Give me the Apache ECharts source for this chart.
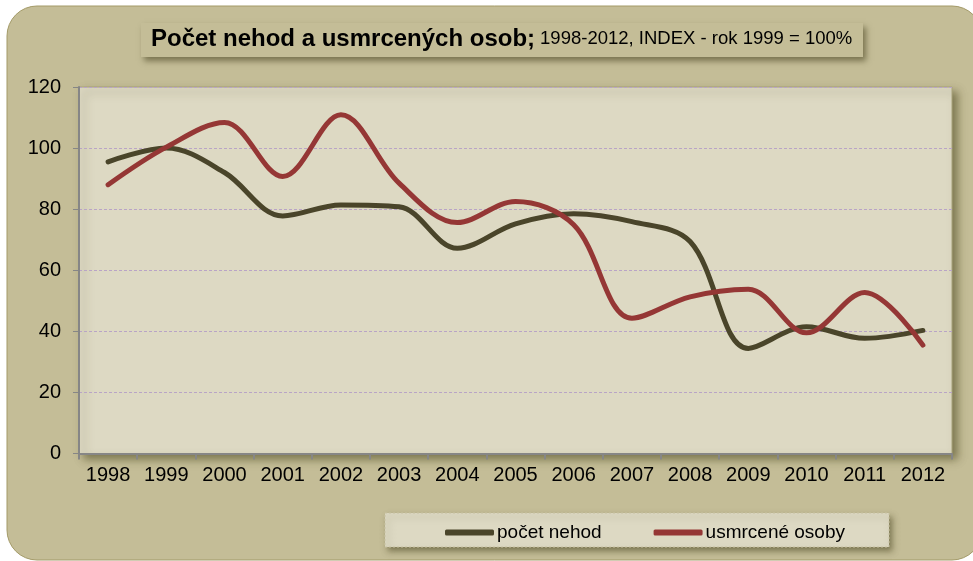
<!DOCTYPE html>
<html>
<head>
<meta charset="utf-8">
<script src="https://cdn.jsdelivr.net/npm/echarts@6/dist/echarts.min.js"></script>
<style>
  html, body { margin: 0; padding: 0; background: #fff; }
  #chart { width: 973px; height: 561px; }
</style>
</head>
<body>
<div id="chart"></div>
<script>
const years = ['1998', '1999', '2000', '2001', '2002', '2003', '2004', '2005',
  '2006', '2007', '2008', '2009', '2010', '2011', '2012'];
const pocetNehod = [95.5, 100, 92, 77.8, 81.4, 80.8, 67.2, 75.2, 78.5, 75.9, 69.4, 34.4, 41.5, 37.7, 40.3];
const usmrceneOsoby = [88, 100.3, 108.4, 90.7, 110.9, 88.5, 75.6, 82.5, 74.9, 44.3, 51.3, 53.8, 39.5, 52.7, 35.5];
const yTicks = [0, 20, 40, 60, 80, 100, 120];

const titleMain = 'Počet nehod a usmrcených osob;';
const titleSub = '1998-2012, INDEX - rok 1999 = 100%';

// measure title so it sits centred in its box
const ctx = document.createElement('canvas').getContext('2d');
ctx.font = 'bold 24px "Liberation Sans"';
let w = ctx.measureText(titleMain + ' ').width;
ctx.font = '18.5px "Liberation Sans"';
w += ctx.measureText(titleSub).width;

const chart = echarts.init(document.getElementById('chart'));

const option = {
  backgroundColor: '#ffffff',
  textStyle: { fontFamily: '"Liberation Sans", Arial, sans-serif' },
  graphic: [
    {
      type: 'rect', z: -10,
      shape: { x: 7, y: 6, width: 975, height: 554, r: 30 },
      style: { fill: '#c4bd97', stroke: '#a39a68', lineWidth: 1 }
    },
    {
      type: 'rect', z: -5,
      shape: { x: 141, y: 23, width: 722, height: 34 },
      style: {
        fill: '#c4bd97', shadowBlur: 6, shadowOffsetX: 3, shadowOffsetY: 4,
        shadowColor: 'rgba(60,55,20,0.55)'
      }
    },
    {
      type: 'rect', z: -5,
      shape: { x: 385, y: 513, width: 504, height: 34 },
      style: {
        fill: '#ddd9c3', stroke: '#c8c2a2', lineWidth: 1, lineDash: [2, 2],
        shadowBlur: 6, shadowOffsetX: 3, shadowOffsetY: 4,
        shadowColor: 'rgba(60,55,20,0.5)'
      }
    }
  ],
  title: {
    text: '{b|' + titleMain + '} {s|' + titleSub + '}',
    left: Math.round(502 - w / 2),
    top: 27,
    padding: 0,
    textStyle: {
      rich: {
        b: { fontSize: 24, fontWeight: 'bold', color: '#000', fontFamily: '"Liberation Sans"' },
        s: { fontSize: 18.5, fontWeight: 'normal', color: '#000', fontFamily: '"Liberation Sans"' }
      }
    }
  },
  legend: {
    data: ['počet nehod', 'usmrcené osoby'],
    left: 440,
    top: 518,
    icon: 'roundRect',
    itemWidth: 49,
    itemHeight: 6,
    itemGap: 52,
    textStyle: { fontSize: 19, color: '#000', padding: [0, 0, 0, -2] }
  },
  grid: {
    left: 79, top: 87, right: 21, bottom: 107.5,
    show: true,
    backgroundColor: '#ddd9c3',
    borderColor: '#a8a27a',
    borderWidth: 1,
    shadowBlur: 8, shadowOffsetX: 5, shadowOffsetY: 5,
    shadowColor: 'rgba(70,65,25,0.55)'
  },
  xAxis: {
    type: 'category',
    data: years,
    boundaryGap: true,
    axisLine: { lineStyle: { color: '#868686', width: 2 } },
    axisTick: { show: true, length: 6, lineStyle: { color: '#868686', width: 2 } },
    axisLabel: { fontSize: 20, color: '#000', margin: 12 }
  },
  yAxis: {
    type: 'value',
    min: 0, max: 120, interval: 20,
    axisLine: { show: true, lineStyle: { color: '#868686', width: 2 } },
    axisTick: { show: true, length: 6, lineStyle: { color: '#868686', width: 1 } },
    axisLabel: {
      fontSize: 20, color: '#000', margin: 18,
      formatter: v => (yTicks.indexOf(v) >= 0 ? String(v) : '')
    },
    splitLine: { lineStyle: { color: '#b9a4c6', width: 1, type: [3, 2] } }
  },
  series: [
    {
      name: 'počet nehod',
      type: 'line',
      data: pocetNehod,
      smooth: 0.35,
      symbol: 'none',
      color: '#4a452a',
      lineStyle: { width: 5, color: '#4a452a', cap: 'round' }
    },
    {
      name: 'usmrcené osoby',
      type: 'line',
      data: usmrceneOsoby,
      smooth: 0.35,
      symbol: 'none',
      color: '#953735',
      lineStyle: { width: 5, color: '#953735', cap: 'round' }
    }
  ]
};

chart.setOption(option);
</script>
</body>
</html>
